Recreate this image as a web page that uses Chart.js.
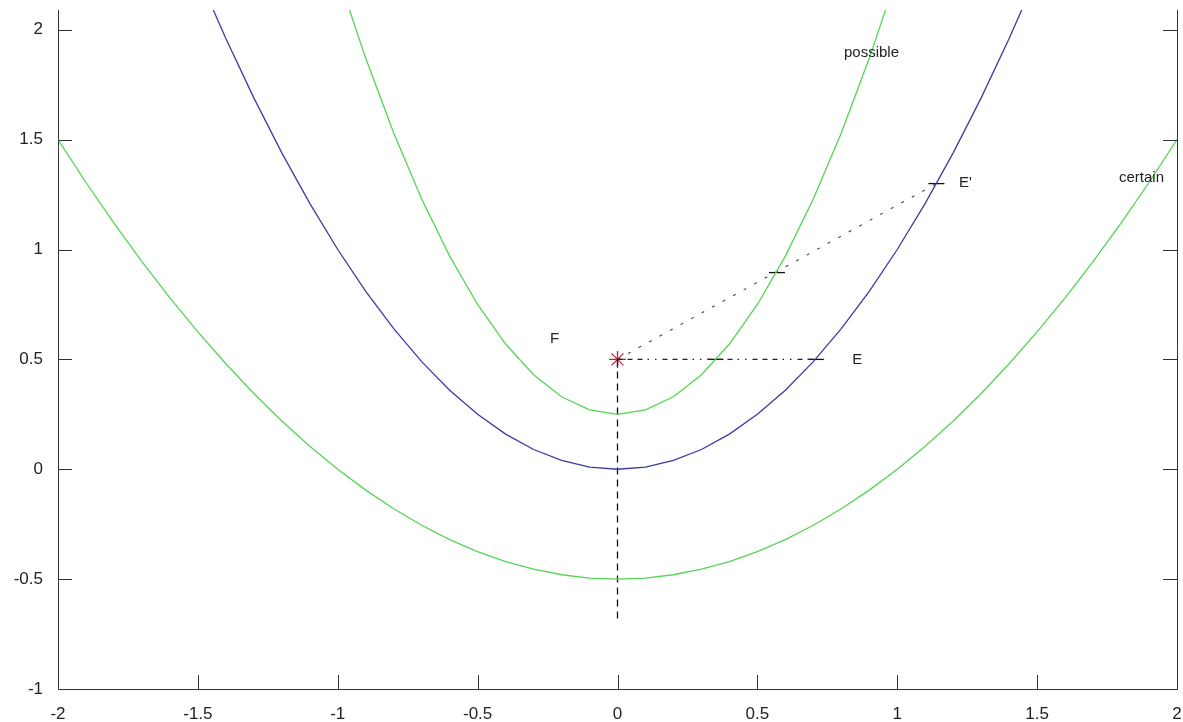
<!DOCTYPE html>
<html>
<head>
<meta charset="utf-8">
<script src="https://cdn.jsdelivr.net/npm/chart.js@4/dist/chart.umd.min.js"></script>
<style>
html,body{margin:0;padding:0;background:#fff;}
canvas{display:block;}
</style>
</head>
<body>
<canvas id="c" width="1183" height="722"></canvas>
<script>
// ---- data ----
const xs = [-2.0,-1.9,-1.8,-1.7,-1.6,-1.5,-1.4,-1.3,-1.2,-1.1,-1.0,-0.9,-0.8,-0.7,-0.6,-0.5,-0.4,-0.3,-0.2,-0.1,0.0,
            0.1,0.2,0.3,0.4,0.5,0.6,0.7,0.8,0.9,1.0,1.1,1.2,1.3,1.4,1.5,1.6,1.7,1.8,1.9,2.0];
const blueCurve = [4.00,3.61,3.24,2.89,2.56,2.25,1.96,1.69,1.44,1.21,1.00,0.81,0.64,0.49,0.36,0.25,0.16,0.09,0.04,0.01,0.00,
                   0.01,0.04,0.09,0.16,0.25,0.36,0.49,0.64,0.81,1.00,1.21,1.44,1.69,1.96,2.25,2.56,2.89,3.24,3.61,4.00];
const possibleCurve = [8.25,7.47,6.73,6.03,5.37,4.75,4.17,3.63,3.13,2.67,2.25,1.87,1.53,1.23,0.97,0.75,0.57,0.43,0.33,0.27,0.25,
                       0.27,0.33,0.43,0.57,0.75,0.97,1.23,1.53,1.87,2.25,2.67,3.13,3.63,4.17,4.75,5.37,6.03,6.73,7.47,8.25];
const certainCurve = [1.50,1.305,1.12,0.945,0.78,0.625,0.48,0.345,0.22,0.105,0.00,-0.095,-0.18,-0.255,-0.32,-0.375,-0.42,-0.455,-0.48,-0.495,-0.50,
                      -0.495,-0.48,-0.455,-0.42,-0.375,-0.32,-0.255,-0.18,-0.095,0.00,0.105,0.22,0.345,0.48,0.625,0.78,0.945,1.12,1.305,1.50];
const focusX = [0]; const focusY = [0.5];
const vertLineX = [0, 0];      const vertLineY = [0.5, -0.7];
const horizLineX = [0, 0.71];  const horizLineY = [0.5, 0.5];
const slantLineX = [0, 1.14];  const slantLineY = [0.5, 1.30];
const markX = [0.35, 0.71, 0.57, 1.14];
const markY = [0.50, 0.50, 0.895, 1.30];
const xTicks = [-2,-1.5,-1,-0.5,0,0.5,1,1.5,2];
const yTicks = [-1,-0.5,0,0.5,1,1.5,2];
const noteText = ['F','E',"E'",'possible','certain'];
const noteX = [-0.225, 0.857, 1.244, 0.908, 1.873];
const noteY = [0.595, 0.50, 1.303, 1.894, 1.325];

const pts = (a, b) => a.map((v, i) => ({x: v, y: b[i]}));
const GREEN = 'rgb(85,212,85)';
const BLUE = 'rgb(60,60,160)';
const FONT = '"Liberation Sans", Arial, sans-serif';

const framePlugin = {
  id: 'frame',
  afterDraw(chart) {
    const ctx = chart.ctx, ca = chart.chartArea;
    const xs_ = chart.scales.x, ys_ = chart.scales.y;
    ctx.save();
    ctx.strokeStyle = '#333';
    ctx.lineWidth = 1;
    ctx.beginPath();
    ctx.moveTo(ca.right + 0.5, ca.top); ctx.lineTo(ca.right + 0.5, ca.bottom);
    const tl = 14;
    yTicks.forEach(v => {
      const p = Math.round(ys_.getPixelForValue(v)) + 0.5;
      ctx.moveTo(ca.left, p); ctx.lineTo(ca.left + tl, p);
      ctx.moveTo(ca.right, p); ctx.lineTo(ca.right - tl, p);
    });
    xTicks.forEach(v => {
      const p = Math.round(xs_.getPixelForValue(v)) + 0.5;
      ctx.moveTo(p, ca.bottom); ctx.lineTo(p, ca.bottom - tl);
    });
    ctx.stroke();
    // annotations
    ctx.fillStyle = '#222';
    ctx.font = '15px ' + FONT;
    ctx.textAlign = 'center';
    ctx.textBaseline = 'middle';
    noteText.forEach((t, i) => {
      ctx.fillText(t, xs_.getPixelForValue(noteX[i]), ys_.getPixelForValue(noteY[i]));
    });
    ctx.restore();
  }
};

new Chart(document.getElementById('c'), {
  type: 'scatter',
  data: {
    datasets: [
      {data: pts(xs, certainCurve), showLine: true, borderColor: GREEN, borderWidth: 1.3, pointRadius: 0, tension: 0},
      {data: pts(xs, blueCurve), showLine: true, borderColor: BLUE, borderWidth: 1.3, pointRadius: 0, tension: 0},
      {data: pts(xs, possibleCurve), showLine: true, borderColor: GREEN, borderWidth: 1.3, pointRadius: 0, tension: 0},
      {data: pts(vertLineX, vertLineY), showLine: true, borderColor: '#111', borderWidth: 1.3, borderDash: [7,5], pointRadius: 0},
      {data: pts(horizLineX, horizLineY), showLine: true, borderColor: '#222', borderWidth: 1.2, borderDash: [5,5,5,5,5,5,1.5,6,1.5,6], pointRadius: 0},
      {data: pts(slantLineX, slantLineY), showLine: true, borderColor: '#444', borderWidth: 1.1, borderDash: [3,9], pointRadius: 0},
      {data: pts(markX, markY), showLine: false, pointStyle: 'line', pointRadius: 8, pointBorderColor: '#111', pointBorderWidth: 1.3},
      {data: pts(focusX, focusY), showLine: false, pointStyle: 'star', pointRadius: 8.5, pointBorderColor: 'rgb(190,40,70)', pointBorderWidth: 1.3}
    ]
  },
  options: {
    responsive: false,
    animation: false,
    devicePixelRatio: 1,
    layout: {autoPadding: false, padding: {top: 10, right: 6, left: 0, bottom: 0}},
    plugins: {legend: {display: false}, tooltip: {enabled: false}},
    scales: {
      x: {
        type: 'linear', min: -2, max: 2,
        afterBuildTicks: s => { s.ticks = xTicks.map(v => ({value: v})); },
        afterFit: s => { s.height = 33; s.paddingLeft = 0; s.paddingRight = 0; },
        grid: {display: false, drawTicks: false},
        border: {display: true, color: '#333', width: 1},
        ticks: {autoSkip: false, maxRotation: 0, padding: 15, color: '#222', font: {family: FONT, size: 17},
                callback: v => String(v)}
      },
      y: {
        type: 'linear', min: -1, max: 2.09,
        afterBuildTicks: s => { s.ticks = yTicks.map(v => ({value: v})); },
        afterFit: s => { s.width = 58; s.paddingTop = 0; s.paddingBottom = 0; },
        grid: {display: false, drawTicks: false},
        border: {display: true, color: '#333', width: 1},
        ticks: {padding: 15, color: '#222', font: {family: FONT, size: 17},
                callback: v => String(v)}
      }
    }
  },
  plugins: [framePlugin]
});
</script>
</body>
</html>
